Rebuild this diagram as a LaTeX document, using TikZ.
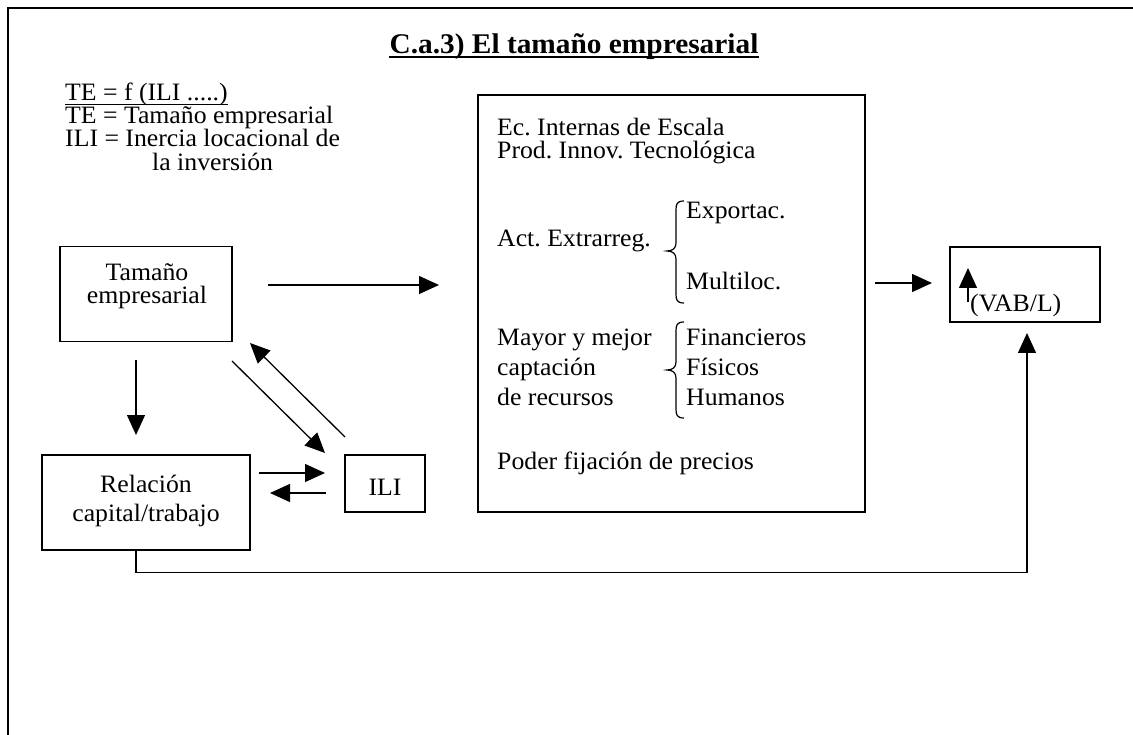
\documentclass[tikz,border=0pt]{standalone}
\usepackage{fontspec}
\setmainfont[FakeStretch=1.03]{Liberation Serif}
\usetikzlibrary{arrows.meta}
\frenchspacing
\newcommand{\bodyfs}{\fontsize{25}{24}\selectfont}
\newcommand{\titlefs}{\fontsize{28.5}{30}\selectfont}
\begin{document}
\begin{tikzpicture}[x=1pt,y=-1pt,
  box/.style={draw, line width=1.3pt, inner sep=0pt},
  txt/.style={inner sep=0pt, anchor=base west, font=\bodyfs},
  ctxt/.style={inner sep=0pt, anchor=base, font=\bodyfs},
  arr/.style={line width=1.3pt, -{Triangle[length=20pt,width=18pt]}},
  brc/.style={line width=1.2pt}]
\useasboundingbox (0,0) rectangle (1133,735);
% outer frame (only left and top edges visible)
\draw[line width=2.5pt] (8,735) -- (8,8) -- (1133,8);
% title
\node[inner sep=0pt, anchor=base, font=\titlefs\bfseries] (title) at (574,54) {C.a.3) El tamaño empresarial};
\draw[line width=1.8pt] ([yshift=-3pt]title.base west) -- ([yshift=-3pt]title.base east);
% legend
\node[txt] (l1) at (65,101) {TE = f (ILI .....)};
\draw[line width=1.2pt] ([yshift=-3.5pt]l1.base west) -- ([yshift=-3.5pt]l1.base east);
\node[txt] (l2) at (65,124) {TE = Tamaño empresarial};
\node[txt] (l3) at (65,147) {ILI = Inercia locacional de};
\node[txt] (l4) at (152,171) {la inversión};
% boxes
\node[box, minimum width=172pt, minimum height=95pt] (tam) at (146,294) {};
\node[box, minimum width=208pt, minimum height=95pt] (rel) at (146,502.5) {};
\node[box, minimum width=80pt, minimum height=57pt] (ili) at (385,483.5) {};
\node[box, minimum width=387pt, minimum height=417pt] (big) at (671.5,303.5) {};
\node[box, minimum width=150pt, minimum height=75pt] (vab) at (1025,284.5) {};
% box texts
\node[ctxt] (t1) at (147,281) {Tamaño};
\node[ctxt] (t2) at (147,304) {empresarial};
\node[ctxt] (r1) at (146,492) {Relación};
\node[ctxt] (r2) at (146,521) {capital/trabajo};
\node[ctxt] (i1) at (385,495) {ILI};
% big box content
\node[txt] (b1) at (497,136) {Ec. Internas de Escala};
\node[txt] (b2) at (497,159) {Prod. Innov. Tecnológica};
\node[txt] (b3) at (497,247) {Act. Extrarreg.};
\node[txt] (b4) at (686,219) {Exportac.};
\node[txt] (b5) at (686,290) {Multiloc.};
\node[txt] (b6) at (497,346) {Mayor y mejor};
\node[txt] (b7) at (497,375) {captación};
\node[txt] (b8) at (497,405) {de recursos};
\node[txt] (b9) at (686,346) {Financieros};
\node[txt] (b10) at (686,375) {Físicos};
\node[txt] (b11) at (686,405) {Humanos};
\node[txt] (b12) at (497,469) {Poder fijación de precios};
% braces
\draw[brc] (684,201) .. controls (677,201) and (676,204) .. (676,210) -- (676,243)
  .. controls (676,248) and (673,251) .. (667,251) .. controls (673,251) and (676,254) .. (676,259)
  -- (676,294) .. controls (676,300) and (677,303) .. (684,303);
\draw[brc] (684,322) .. controls (677,322) and (676,325) .. (676,331) -- (676,362)
  .. controls (676,367) and (673,370) .. (667,370) .. controls (673,370) and (676,373) .. (676,378)
  -- (676,409) .. controls (676,415) and (677,418) .. (684,418);
% VAB content
\node[txt] (v1) at (970,312) {(VAB/L)};
\coordinate (vs) at (968,302);
\coordinate (vt) at (968,268);
\draw[arr] (vs) -- (vt);
% connector end points
\coordinate (c1s) at (268,285);
\coordinate (c1e) at (439,285);
\coordinate (c2s) at (136,360);
\coordinate (c2e) at (136,435);
\coordinate (c3s) at (232,361);
\coordinate (c3e) at (325,453);
\coordinate (c4s) at (345,437);
\coordinate (c4e) at (250,343);
\coordinate (c5s) at (259,473);
\coordinate (c5e) at (325,473);
\coordinate (c6s) at (326,493);
\coordinate (c6e) at (270,493);
\coordinate (c7s) at (875,283);
\coordinate (c7e) at (932,283);
\coordinate (c8e) at (1027,333);
\draw[arr] (c1s) -- (c1e);
\draw[arr] (c2s) -- (c2e);
\draw[arr] (c3s) -- (c3e);
\draw[arr] (c4s) -- (c4e);
\draw[arr] (c5s) -- (c5e);
\draw[arr] (c6s) -- (c6e);
\draw[arr] (c7s) -- (c7e);
\draw[arr] ([xshift=-10pt]rel.south) -- ++(0,22) -| (c8e);
\end{tikzpicture}
\end{document}
